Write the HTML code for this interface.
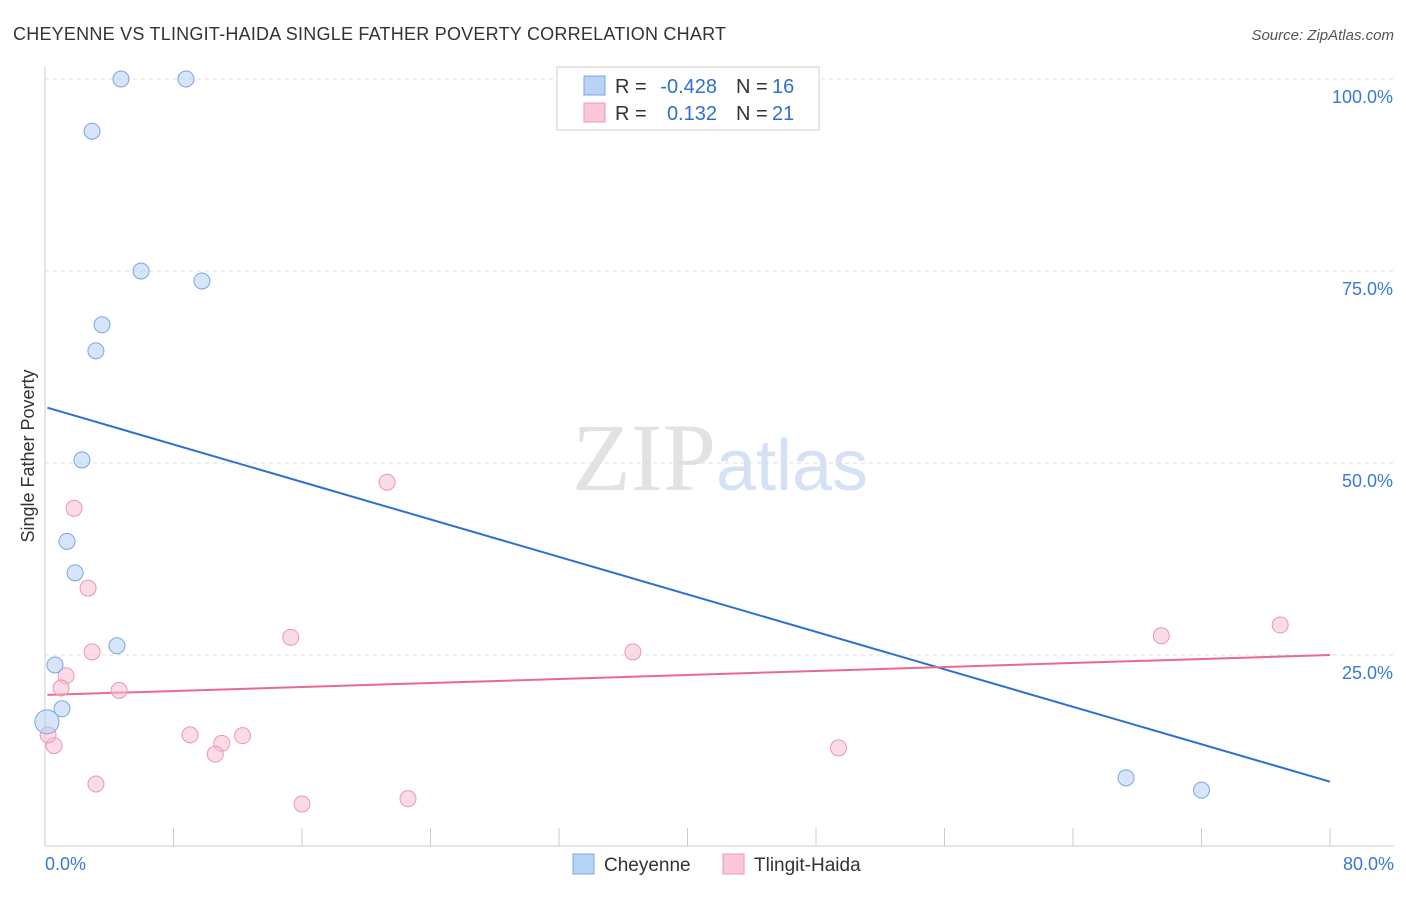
<!DOCTYPE html>
<html><head><meta charset="utf-8"><style>
body{margin:0;background:#fff;font-family:"Liberation Sans",sans-serif}
</style></head><body>
<svg id="chart" width="1406" height="892" xmlns="http://www.w3.org/2000/svg" style="font-family:'Liberation Sans',sans-serif">
<text x="13" y="40" font-size="18" fill="#333" textLength="713">CHEYENNE VS TLINGIT-HAIDA SINGLE FATHER POVERTY CORRELATION CHART</text>
<text x="1394" y="40" font-size="15" fill="#555" font-style="italic" text-anchor="end">Source: ZipAtlas.com</text>
<text x="720" y="490" font-size="96" text-anchor="middle" fill="#e2e2e2" font-family="Liberation Serif">ZIP<tspan fill="#d5e2f5" font-family="Liberation Sans" font-size="72">atlas</tspan></text>
<text transform="translate(34,456) rotate(-90)" font-size="18" fill="#333" text-anchor="middle">Single Father Poverty</text>
<g id="grid"></g><g id="axes"></g><g id="lines"></g><g id="pts"></g>
<g>
<rect x="557" y="67" width="262" height="63" fill="#fff" stroke="#ccc"/>
<rect x="584" y="76" width="21" height="19" fill="#b8d3f5" stroke="#7aa6e0"/>
<rect x="584" y="103" width="21" height="19" fill="#fbc8d8" stroke="#eb97b2"/>
<text x="615" y="93" font-size="20" fill="#333">R =</text>
<text x="717" y="93" font-size="20" fill="#2e6fd0" text-anchor="end">-0.428</text>
<text x="736" y="93" font-size="20" fill="#333">N =</text>
<text x="772" y="93" font-size="20" fill="#2e6fd0">16</text>
<text x="615" y="120" font-size="20" fill="#333">R =</text>
<text x="717" y="120" font-size="20" fill="#2e6fd0" text-anchor="end">0.132</text>
<text x="736" y="120" font-size="20" fill="#333">N =</text>
<text x="772" y="120" font-size="20" fill="#2e6fd0">21</text>
</g>
<g>
<rect x="573" y="854" width="21" height="20" fill="#b8d3f5" stroke="#7aa6e0"/>
<text x="604" y="871" font-size="19" fill="#333">Cheyenne</text>
<rect x="723" y="854" width="21" height="20" fill="#fbc8d8" stroke="#eb97b2"/>
<text x="754" y="871" font-size="19" fill="#333">Tlingit-Haida</text>
</g>
</svg>
<script>
const yTicks=[25,50,75,100];
const yTickLabels=["25.0%","50.0%","75.0%","100.0%"];
const xEndLabels=["0.0%","80.0%"];
const cheyX=[4.73,8.78,2.93,5.98,9.77,3.55,3.17,2.30,1.37,1.87,4.48,0.62,1.06,0.12,67.3,72.0];
const cheyY=[100,100,93.2,75,73.7,68,64.6,50.4,39.8,35.7,26.2,23.7,18,16.3,9,7.4];
const tlX=[1.81,21.3,2.68,2.93,15.3,36.6,69.5,76.9,1.31,1.0,4.61,9.03,12.3,11.0,10.6,49.4,0.56,0.19,3.17,16.0,22.6];
const tlY=[44.1,47.5,33.7,25.4,27.3,25.4,27.5,28.9,22.3,20.7,20.4,14.6,14.5,13.5,12.1,12.9,13.2,14.6,8.2,5.6,6.3];
const cheyTrend=[57.2,8.5];
const tlTrend=[19.8,25.0];
const NS="http://www.w3.org/2000/svg";
const X=v=>45+v/80*1285, Y=v=>847-v*7.68;
function mk(t,a,p){const e=document.createElementNS(NS,t);for(const k in a)e.setAttribute(k,a[k]);p.appendChild(e);return e;}
const g=document.getElementById('grid'),ax=document.getElementById('axes'),ln=document.getElementById('lines'),pt=document.getElementById('pts');
yTicks.forEach((t,i)=>{
 const l=mk('line',{x1:45,x2:1394,y1:Y(t),y2:Y(t),stroke:'#ddd','stroke-dasharray':'4,4'},g);
 
 
 const tx=mk('text',{x:1393,y:Y(t)+24,'font-size':18,fill:'#3a78d8','text-anchor':'end'},ax);
 tx.textContent=yTickLabels[i];
 
 
});
const ya=mk('line',{x1:45,x2:45,y1:67,y2:846,stroke:'#ccc'},ax);


const xa=mk('line',{x1:45,x2:1394,y1:846,y2:846,stroke:'#ccc'},ax);


for(let i=0;i<=10;i++){const t=mk('line',{x1:X(i*8),x2:X(i*8),y1:828,y2:846,stroke:'#ccc'},ax);
 
 }
[[0,'start',45],[80,'end',1394]].forEach((d,i)=>{const t=mk('text',{x:d[2],y:870,'font-size':18,fill:'#3a78d8','text-anchor':d[1]},ax);t.textContent=xEndLabels[i];
 
 });
const l1=mk('line',{x1:X(0.15),y1:Y(cheyTrend[0]),x2:X(80),y2:Y(cheyTrend[1]),stroke:'#2e6fd0','stroke-width':2},ln);


const l2=mk('line',{x1:X(0.15),y1:Y(tlTrend[0]),x2:X(80),y2:Y(tlTrend[1]),stroke:'#e86a92','stroke-width':2},ln);


tlX.forEach((x,i)=>{const c=mk('circle',{cx:X(x),cy:Y(tlY[i]),r:8,fill:'rgba(248,190,210,0.55)',stroke:'#eb97b2'},pt);
 
 });
cheyX.forEach((x,i)=>{const c=mk('circle',{cx:X(x),cy:Y(cheyY[i]),r:i==13?12:8,fill:'rgba(180,208,245,0.55)',stroke:'#7aa6e0'},pt);
 
 });
</script>
</body></html>
